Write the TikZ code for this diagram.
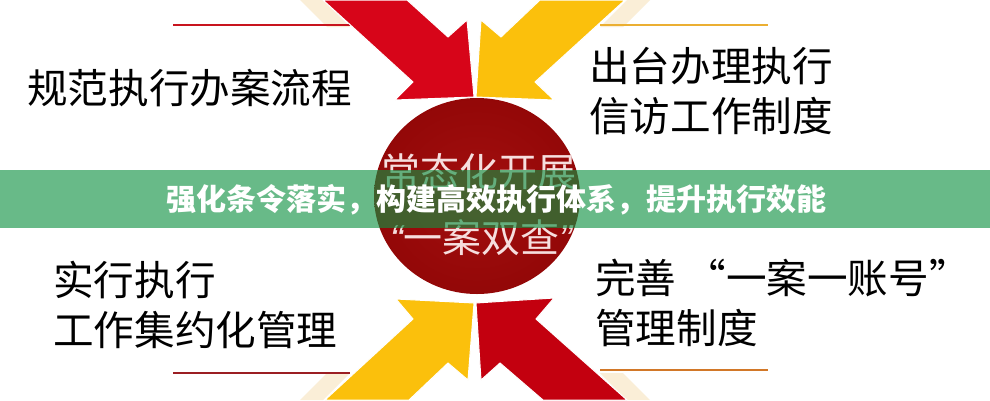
\documentclass[tikz,border=0pt]{standalone}
\usepackage{fontspec}
\setmainfont{Noto Sans CJK SC}
\newfontfamily\quotefont{Liberation Sans}
\usepackage{tikz}
\usetikzlibrary{positioning}

\definecolor{arrowred}{RGB}{215,5,25}
\definecolor{arrowdark}{RGB}{195,0,15}
\definecolor{arrowyellow}{RGB}{251,192,12}
\definecolor{circlered}{RGB}{160,8,8}
\definecolor{circletext}{RGB}{246,222,222}
\definecolor{bannergreen}{RGB}{16,146,67}
\definecolor{cream}{RGB}{250,238,215}

\begin{document}
\begin{tikzpicture}[x=1pt, y=-1pt,
	sidetext/.style={anchor=west, inner sep=0pt, align=left, font=\fontsize{40.6}{50}\selectfont},
	circtext/.style={inner sep=0pt, text=circletext, font=\fontsize{39}{46}\selectfont},
	arrowpiece/.style={draw=white, line width=1pt, line join=miter},
	underline/.style={line width=2.5pt}]
			\useasboundingbox (0,0) rectangle (990,400);
			\fill[white] (0,0) rectangle (990,400);
			\clip (0,0) rectangle (990,400);
			\fill[cream] (300,0) -- (323,0) -- (350,27) -- (327,27) -- cycle;
			\fill[cream] (650,0) -- (627,0) -- (600,27) -- (623,27) -- cycle;
			\fill[cream] (300,400) -- (323,400) -- (350,373) -- (327,373) -- cycle;
			\fill[cream] (650,400) -- (627,400) -- (600,373) -- (623,373) -- cycle;
			\draw[underline, color={rgb,255:red,200;green,20;blue,30}] (173,25) -- (350,25);
			\draw[underline, color={rgb,255:red,235;green,175;blue,50}] (600,25) -- (768,25);
			\draw[underline, color={rgb,255:red,155;green,30;blue,35}] (173,373) -- (350,373);
			\draw[underline, color={rgb,255:red,210;green,120;blue,40}] (600,370) -- (768,370);
			\filldraw[arrowpiece, fill=arrowred] (323,0) -- (407,0) -- (448,37) -- (467,20) -- (474,97) -- (395,100) -- (413,82) -- cycle;
			\filldraw[arrowpiece, fill=arrowyellow] (625,0) -- (540,0) -- (501,37) -- (481,20) -- (476,97) -- (554,100) -- (535,82) -- cycle;
			\filldraw[arrowpiece, fill=arrowyellow] (325,400) -- (409,400) -- (448,363) -- (468,380) -- (474,303) -- (396,299) -- (413,319) -- cycle;
			\filldraw[arrowpiece, fill=arrowdark] (627,400) -- (543,400) -- (500,363) -- (481,380) -- (476,303) -- (554,298) -- (536,319) -- cycle;
			\shade[inner color=circlered!97!white, outer color=circlered!92!black] (477,196) ellipse [x radius=103pt, y radius=98pt];
			\node[circtext] (changtai) at (479,172) {常态化开展};
			\node[circtext] (yiancha) at (481,238) {{\quotefont\itshape “}一案双查{\quotefont\itshape ”}};
			\node[sidetext] (liucheng) at (27,88) {规范执行办案流程};
			\node[sidetext] (xinfang) at (589,91) {出台办理执行\\信访工作制度};
			\node[sidetext] (jiyue) at (53,305) {实行执行\\工作集约化管理};
			\node[sidetext] (zhanghao) at (595,303) {完善 “一案一账号”\\管理制度};
			\fill[bannergreen, opacity=0.63] (0,170) rectangle (990,228);
			\node[text=white, inner sep=0pt, font=\fontsize{30}{36}\selectfont\bfseries] (tiaoling) at (496,200) {强化条令落实，构建高效执行体系，提升执行效能};
			\end{tikzpicture}
\end{document}
